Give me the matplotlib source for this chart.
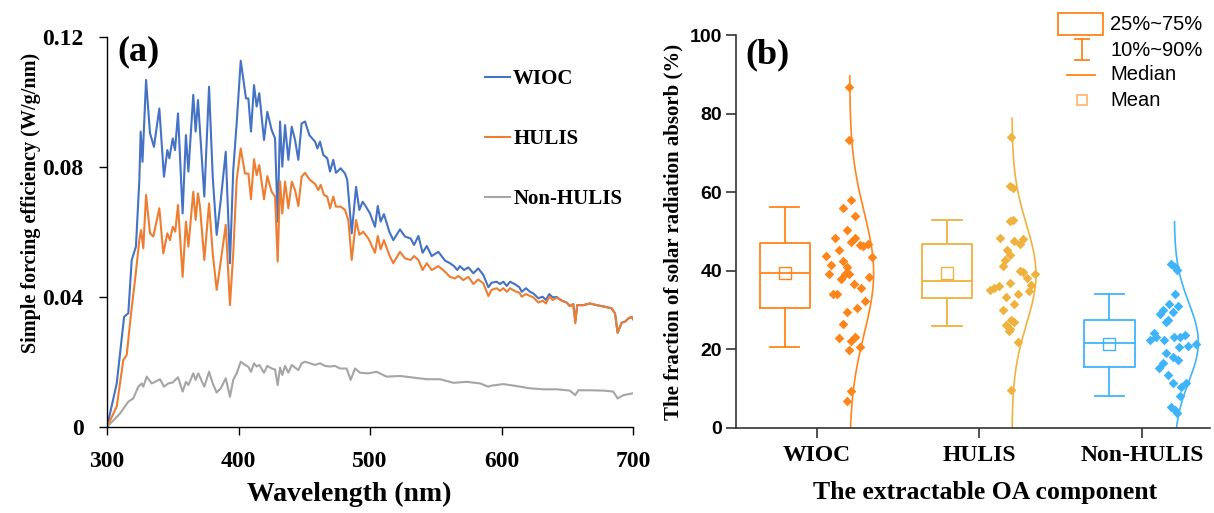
import numpy as np
import matplotlib
matplotlib.use('Agg')
import matplotlib.pyplot as plt
from matplotlib.patches import Rectangle
from matplotlib.lines import Line2D

# ---- panel (a): simple forcing efficiency spectra ----
wl_wioc = [300, 307.4, 313, 316.2, 318.8, 322, 324.6, 325.6, 327, 329.7,
           332.7, 335.7, 339.8, 343.3, 345.9, 347.4, 350, 351.7, 354, 357.5,
           360, 361.9, 365.6, 367.4, 369.2, 374, 377.6, 380.4, 383.4, 386.5,
           390.3, 393.5, 396, 398.6, 401.7, 405.7, 407.5, 409.5, 411.8, 413.8,
           415.8, 419.4, 421.9, 425.2, 427.8, 429.8, 431.6, 433.3, 435.4, 437.9,
           440.5, 443, 445.5, 448, 450.6, 453.9, 458.2, 460, 462, 464.5,
           467.5, 469.6, 472.1, 474.1, 477.7, 481, 482.7, 486.1, 489.4, 491.9,
           494.4, 496.2, 500, 503.8, 505.9, 508.1, 510.6, 514.7, 517.7, 522.8,
           526.6, 530.9, 533.5, 536.8, 540, 543.2, 546.9, 552, 557, 560.8,
           563.9, 566.4, 568.4, 571.5, 574.8, 578.6, 582.3, 586.2, 590, 592.5,
           596.3, 598.8, 601.4, 604, 606.5, 610.3, 613.6, 615.4, 618.6, 621.7,
           624.2, 628, 631.3, 633.8, 636.3, 638.9, 642, 645.7, 649.5, 652,
           654.6, 656.1, 657.6, 662.2, 667.3, 672.3, 678.7, 683.7, 686.3, 688.3,
           691.4, 693.9, 696.5, 699, 700.2]
sfe_wioc = [0.0, 0.0134, 0.0339, 0.035, 0.0514, 0.0555, 0.076, 0.0909, 0.0816, 0.1068,
            0.0904, 0.0862, 0.098, 0.077, 0.0852, 0.0827, 0.0888, 0.0852, 0.0965, 0.0657,
            0.0898, 0.0786, 0.1022, 0.0909, 0.1006, 0.0709, 0.1047, 0.077, 0.0591, 0.0698,
            0.0847, 0.0504, 0.079, 0.0934, 0.1127, 0.1011, 0.1011, 0.0909, 0.1052, 0.0986,
            0.1027, 0.0883, 0.097, 0.0914, 0.0888, 0.0632, 0.094, 0.0801, 0.0929, 0.0822,
            0.0924, 0.0883, 0.0822, 0.0934, 0.094, 0.0898, 0.0878, 0.0857, 0.0878, 0.0837,
            0.0827, 0.0786, 0.0822, 0.0782, 0.0796, 0.078, 0.076, 0.0596, 0.0739, 0.0668,
            0.0693, 0.0683, 0.0657, 0.0616, 0.068, 0.0632, 0.0655, 0.0601, 0.0575, 0.0608,
            0.0586, 0.058, 0.056, 0.0588, 0.0536, 0.0557, 0.0526, 0.0539, 0.0512, 0.0504,
            0.0495, 0.0483, 0.0495, 0.0483, 0.0491, 0.0473, 0.0488, 0.0468, 0.043, 0.0444,
            0.0447, 0.044, 0.0447, 0.0434, 0.0447, 0.0439, 0.043, 0.0416, 0.0427, 0.0416,
            0.0411, 0.0396, 0.0401, 0.0391, 0.0409, 0.0399, 0.040, 0.0389, 0.0383, 0.0372,
            0.0378, 0.0325, 0.0375, 0.0375, 0.038, 0.0375, 0.037, 0.0365, 0.035, 0.029,
            0.0321, 0.0324, 0.0334, 0.0339, 0.0331]

wl_hulis = [300, 307.4, 312.4, 315, 318, 321.3, 324.6, 325.9, 327.6, 329.7,
            332.7, 335.2, 339.8, 342.8, 345.9, 347.9, 350, 351.9, 354, 357.5,
            360, 361.9, 365.6, 367.4, 369.2, 370.7, 374, 377.6, 380.4, 383.4,
            386.5, 390.3, 393.5, 396, 398.6, 401.7, 404.9, 407.5, 409.5, 411.8,
            413.8, 415.8, 419.4, 421.9, 425.2, 427.8, 429.8, 431.6, 433.3, 435.4,
            437.9, 440.5, 443, 445.5, 448, 450.6, 453.9, 458.2, 460.7, 462.5,
            465, 467.5, 469.6, 472.1, 474.1, 477.7, 481, 483.5, 486.1, 489.4,
            491.9, 494.9, 498.7, 500, 503.8, 505.9, 508.1, 510.6, 514.7, 517.7,
            522.8, 526.6, 530.9, 533.5, 536.8, 540, 543.2, 546.9, 552, 557,
            560.8, 564.6, 567.1, 570.9, 574.8, 578.6, 582.3, 586.2, 590, 592.5,
            596.3, 598.8, 601.4, 604, 606.5, 610.3, 613.6, 615.4, 618.6, 621.7,
            624.2, 628, 631.3, 633.8, 636.3, 638.9, 642, 645.7, 649.5, 652,
            654.6, 656.1, 657.6, 662.2, 667.3, 672.3, 678.7, 683.7, 686.3, 688.3,
            691.4, 693.9, 696.5, 699, 700.2]
sfe_hulis = [0.0, 0.0063, 0.0206, 0.0222, 0.0339, 0.0452, 0.0575, 0.0606, 0.055, 0.0714,
             0.0596, 0.0586, 0.0673, 0.0534, 0.0596, 0.0575, 0.0616, 0.0601, 0.0683, 0.0462,
             0.0632, 0.0555, 0.0724, 0.0637, 0.0719, 0.0678, 0.0514, 0.0688, 0.0534, 0.0422,
             0.0509, 0.0622, 0.0375, 0.0534, 0.076, 0.0857, 0.078, 0.078, 0.0701, 0.0824,
             0.0775, 0.0806, 0.0701, 0.0772, 0.0724, 0.0709, 0.0509, 0.0755, 0.0657, 0.0755,
             0.0673, 0.0755, 0.0729, 0.068, 0.077, 0.0782, 0.0762, 0.0748, 0.0729, 0.0745,
             0.0714, 0.0709, 0.0673, 0.0709, 0.0678, 0.0678, 0.0668, 0.0637, 0.0514, 0.0637,
             0.0591, 0.0601, 0.058, 0.057, 0.0536, 0.0588, 0.0547, 0.0575, 0.0529, 0.0504,
             0.0539, 0.0519, 0.0514, 0.0526, 0.0514, 0.0483, 0.0504, 0.0483, 0.0495, 0.0478,
             0.0462, 0.0457, 0.0465, 0.0452, 0.0462, 0.044, 0.0454, 0.0442, 0.0403, 0.0422,
             0.0427, 0.0419, 0.0427, 0.0416, 0.0427, 0.0418, 0.0413, 0.0401, 0.0409, 0.0403,
             0.0399, 0.0383, 0.0389, 0.038, 0.0401, 0.0391, 0.0398, 0.0389, 0.0383, 0.0372,
             0.0378, 0.0319, 0.0375, 0.0375, 0.038, 0.0375, 0.037, 0.0365, 0.035, 0.029,
             0.0321, 0.0324, 0.0334, 0.0339, 0.0331]

wl_non = [300, 310, 316.2, 320, 323.8, 326.4, 327.6, 330.2, 334, 336.5,
          340.3, 343.3, 346.6, 350, 354, 357.5, 360, 361.9, 365.6, 367.4,
          369.4, 374, 377.6, 380.4, 383.4, 386.5, 390.3, 393.5, 396, 398.6,
          401.7, 404.9, 407.5, 409.5, 411.8, 413.8, 415.8, 419.4, 421.9, 425.2,
          427.8, 429.8, 431.6, 433.3, 435.4, 437.9, 440.5, 443, 445.5, 448,
          450.6, 454.4, 458.2, 462, 465.8, 469.6, 473.4, 477.2, 482.2, 485.3,
          488.6, 492.4, 498.7, 505, 512.6, 522.8, 533, 543.2, 553.3, 563.5,
          573.6, 583.8, 590, 592, 601.4, 611.5, 621.7, 631.8, 642, 652,
          656.1, 658.4, 667.3, 677.4, 685, 688.3, 692.7, 700.2]
sfe_non = [0.0, 0.0042, 0.0078, 0.0088, 0.0124, 0.0134, 0.0124, 0.0155, 0.0134, 0.0139,
           0.0147, 0.0124, 0.0134, 0.0137, 0.0153, 0.0109, 0.0139, 0.0129, 0.0165, 0.0145,
           0.0165, 0.0124, 0.017, 0.0134, 0.0106, 0.0119, 0.015, 0.0093, 0.0145, 0.0165,
           0.0201, 0.0191, 0.0185, 0.017, 0.0196, 0.0186, 0.0191, 0.0167, 0.0188, 0.018,
           0.0177, 0.0129, 0.0183, 0.016, 0.0188, 0.0167, 0.0191, 0.0183, 0.0175, 0.0196,
           0.0201, 0.0196, 0.0191, 0.0196, 0.0188, 0.0186, 0.0188, 0.018, 0.018, 0.0145,
           0.018, 0.0167, 0.0165, 0.017, 0.0155, 0.0157, 0.0152, 0.0147, 0.0147, 0.0136,
           0.0139, 0.0134, 0.0124, 0.0127, 0.0132, 0.0126, 0.0119, 0.0116, 0.0116, 0.0112,
           0.0098, 0.0113, 0.0113, 0.0112, 0.0109, 0.0088, 0.0098, 0.0104]

# ---- panel (b): fraction of solar radiation absorbed ----
groups = ['WIOC', 'HULIS', 'Non-HULIS']
group_colors = ['#FF8419', '#EFB23E', '#3FB4FB']

# box statistics: 10%, 25%, median, 75%, 90%, mean
box_p10 = [20.5, 26.0, 8.1]
box_q1 = [30.5, 33.1, 15.4]
box_med = [39.5, 37.4, 21.7]
box_q3 = [47.0, 46.8, 27.4]
box_p90 = [56.2, 52.9, 34.0]
box_mean = [39.5, 39.5, 21.3]
curve_top = [89.6, 78.8, 52.5]

wioc_x = [1.197, 1.197, 1.209, 1.158, 1.236, 1.183, 1.107, 1.236, 1.209, 1.261,
          1.285, 1.312, 1.133, 1.057, 1.336, 1.084, 1.158, 1.185, 1.070, 1.172,
          1.199, 1.322, 1.146, 1.224, 1.273, 1.096, 1.121, 1.297, 1.248, 1.185,
          1.158, 1.133, 1.236, 1.209, 1.197, 1.261, 1.209, 1.185]
wioc_y = [86.7, 73.4, 58.1, 56.1, 53.9, 50.3, 48.4, 48.4, 47.4, 46.5,
          46.3, 46.8, 45.2, 43.7, 43.4, 41.6, 42.5, 41.0, 39.3, 39.3,
          39.1, 38.5, 37.9, 36.6, 35.7, 34.2, 34.2, 32.3, 30.5, 29.4,
          26.4, 23.0, 23.2, 22.2, 19.9, 20.5, 9.5, 6.9]

hulis_x = [2.197, 2.187, 2.205, 2.187, 2.205, 2.129, 2.269, 2.211, 2.248, 2.170,
           2.187, 2.160, 2.144, 2.252, 2.269, 2.345, 2.293, 2.187, 2.318, 2.119,
           2.092, 2.064, 2.308, 2.238, 2.164, 2.211, 2.144, 2.197, 2.211, 2.164,
           2.187, 2.181, 2.238, 2.197]
hulis_y = [74.1, 61.6, 61.0, 52.6, 52.9, 48.4, 48.2, 47.6, 46.9, 45.2,
           44.0, 42.7, 41.3, 39.9, 39.7, 39.1, 38.2, 36.9, 36.5, 36.2,
           35.7, 35.2, 34.8, 34.0, 33.4, 31.5, 30.1, 27.4, 27.0, 26.1,
           25.3, 24.6, 21.9, 9.6]

non_x = [3.178, 3.203, 3.219, 3.205, 3.168, 3.131, 3.224, 3.115, 3.189, 3.162,
         3.148, 3.074, 3.090, 3.049, 3.137, 3.199, 3.234, 3.265, 3.336, 3.285,
         3.230, 3.148, 3.193, 3.224, 3.131, 3.107, 3.162, 3.271, 3.244, 3.189,
         3.234, 3.178, 3.203, 3.219]
non_y = [41.7, 41.0, 40.3, 34.0, 31.5, 30.0, 31.0, 29.1, 29.5, 27.4,
         27.0, 24.3, 23.2, 22.3, 22.5, 23.2, 23.2, 23.6, 21.5, 20.9,
         20.6, 19.1, 18.1, 17.4, 16.6, 15.3, 13.6, 11.5, 10.4, 11.5,
         8.1, 5.3, 4.5, 3.7]

SERIF = 'Liberation Serif'
SANS = 'Liberation Sans'
W, H = 1214, 513


def fig_xy(px, py):
    return px / W, 1 - py / H


fig = plt.figure(figsize=(W / 100, H / 100), dpi=100)

# ================= panel (a) =================
ax1 = fig.add_axes([107 / W, 1 - 427 / H, 526 / W, 390 / H])
line_kw = dict(lw=1.5, solid_joinstyle='round')
ax1.plot(wl_wioc, sfe_wioc, color='#4472C4', label='WIOC', **line_kw)
ax1.plot(wl_hulis, sfe_hulis, color='#ED7D31', label='HULIS', **line_kw)
ax1.plot(wl_non, sfe_non, color='#A5A5A5', label='Non-HULIS', **line_kw)
ax1.set_xlim(300, 700)
ax1.set_ylim(0, 0.12)
ax1.set_xticks([300, 400, 500, 600, 700])
ax1.set_yticks([0, 0.04, 0.08, 0.12])
ax1.set_yticklabels(['0', '0.04', '0.08', '0.12'])
for s in ['top', 'right']:
    ax1.spines[s].set_visible(False)
for s in ['left', 'bottom']:
    ax1.spines[s].set_linewidth(1.0)
ax1.tick_params(axis='both', direction='out', length=6, width=1.0)
ax1.tick_params(axis='x', pad=11)
ax1.tick_params(axis='y', pad=11)
for lab in ax1.get_xticklabels() + ax1.get_yticklabels():
    lab.set_fontfamily(SERIF)
    lab.set_fontweight('bold')
    lab.set_fontsize(17)
ax1.set_xlabel('Wavelength (nm)', fontfamily=SERIF, fontweight='bold', fontsize=20)
ax1.xaxis.set_label_coords(0.46, -0.141)
ax1.set_ylabel('Simple forcing efficiency (W/g/nm)', fontfamily=SERIF,
               fontweight='bold', fontsize=14.5)
ax1.yaxis.set_label_coords(-0.125, 0.574)
ax1.text(0.019, 0.962, '(a)', transform=ax1.transAxes, fontfamily=SERIF,
         fontweight='bold', fontsize=26, va='center', ha='left')
leg = ax1.legend(loc='upper left', bbox_to_anchor=fig_xy(485, 69),
                 bbox_transform=fig.transFigure, frameon=False, borderpad=0,
                 borderaxespad=0, handlelength=1.2, handletextpad=0.15,
                 labelspacing=1.93,
                 prop={'family': SERIF, 'weight': 'bold', 'size': 15})

# ================= panel (b) =================
ax2 = fig.add_axes([736 / W, 1 - 428 / H, 474 / W, 393 / H])
ax2.set_xlim(0.5, 3.42)
ax2.set_ylim(0, 100)
pos = np.arange(1, len(groups) + 1)
samples = [(wioc_x, wioc_y), (hulis_x, hulis_y), (non_x, non_y)]

for i, c in enumerate(group_colors):
    st = [{'whislo': box_p10[i], 'q1': box_q1[i], 'med': box_med[i],
           'q3': box_q3[i], 'whishi': box_p90[i], 'mean': box_mean[i],
           'fliers': []}]
    ax2.bxp(st, positions=[pos[i] - 0.2], widths=0.31, capwidths=0.18,
            showmeans=True, showfliers=False, manage_ticks=False,
            boxprops=dict(color=c, lw=1.3),
            whiskerprops=dict(color=c, lw=1.3),
            capprops=dict(color=c, lw=1.3),
            medianprops=dict(color=c, lw=1.3),
            meanprops=dict(marker='s', markersize=8, markerfacecolor='none',
                           markeredgecolor=c, markeredgewidth=1.0))
    xs, ys = samples[i]
    ax2.scatter(xs, ys, marker='D', s=24, color=c, linewidths=0, zorder=3)
    # normal distribution curve from the sample
    m, sd = np.mean(ys), np.std(ys, ddof=1)
    yy = np.linspace(0, curve_top[i], 300)
    ww = 0.148 * np.exp(-(yy - m) ** 2 / (2 * sd ** 2))
    ax2.plot(pos[i] + 0.2 + ww, yy, color=c, lw=1.2)

ax2.set_xticks(pos)
ax2.set_xticklabels(groups, fontfamily=SERIF, fontweight='bold', fontsize=17)
ax2.set_yticks([0, 20, 40, 60, 80, 100])
for lab in ax2.get_yticklabels():
    lab.set_fontfamily(SANS)
    lab.set_fontweight('bold')
    lab.set_fontsize(14)
for s in ['top', 'right']:
    ax2.spines[s].set_visible(False)
for s in ['left', 'bottom']:
    ax2.spines[s].set_linewidth(1.2)
    ax2.spines[s].set_color('#333333')
ax2.tick_params(axis='both', direction='out', length=7, width=1.2, color='#333333')
ax2.tick_params(axis='y', pad=3)
ax2.tick_params(axis='x', pad=5)
ax2.set_xlabel('The extractable OA component', fontfamily=SERIF,
               fontweight='bold', fontsize=18.5)
ax2.xaxis.set_label_coords(0.525, -0.136)
ax2.set_ylabel('The fraction of solar radiation absorb (%)', fontfamily=SERIF,
               fontweight='bold', fontsize=15)
ax2.yaxis.set_label_coords(-0.110, 0.5)
ax2.text(0.019, 0.949, '(b)', transform=ax2.transAxes, fontfamily=SERIF,
         fontweight='bold', fontsize=26, va='center', ha='left')

# legend of the box chart, drawn by hand
lc = group_colors[0]
tf = fig.transFigure
x0, y0 = fig_xy(1058, 35)
x1, y1 = fig_xy(1103, 13)
fig.add_artist(Rectangle((x0, y0), x1 - x0, y1 - y0, transform=tf,
                         fill=False, edgecolor=lc, lw=1.3))
for seg in [((1082, 39), (1082, 60)), ((1075, 39), (1089, 39)),
            ((1075, 60), (1089, 60)), ((1067, 75), (1095, 75))]:
    (ax_, ay_), (bx_, by_) = fig_xy(*seg[0]), fig_xy(*seg[1])
    fig.add_artist(Line2D([ax_, bx_], [ay_, by_], transform=tf, color=lc, lw=1.3))
mx, my = fig_xy(1082, 100)
fig.add_artist(Line2D([mx], [my], transform=tf, marker='s', markersize=7,
                      markerfacecolor='none', markeredgecolor='#FFB070',
                      markeredgewidth=1.2))
for txt, ty in [('25%~75%', 25), ('10%~90%', 50), ('Median', 75), ('Mean', 100)]:
    tx, tyy = fig_xy(1110, ty)
    fig.text(tx, tyy, txt, fontfamily=SANS, fontsize=14.5, va='center', ha='left')

fig.savefig('out.png', dpi=100)
